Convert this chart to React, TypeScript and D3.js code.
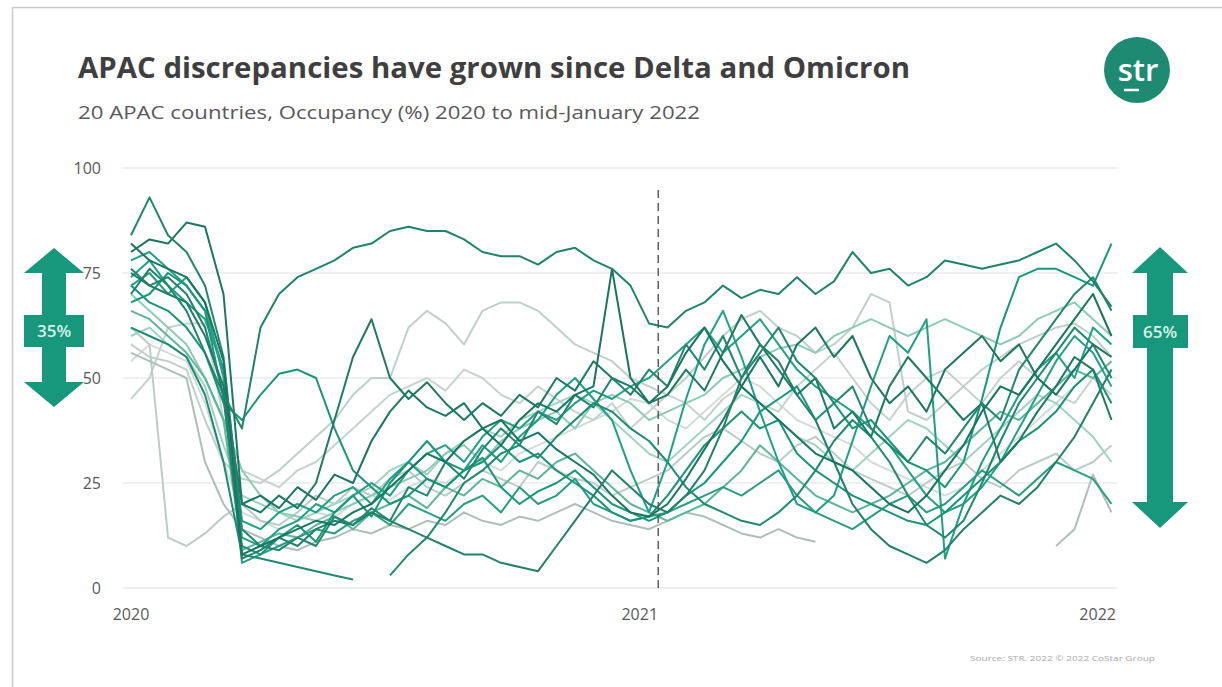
import React from "react";
import * as d3 from "d3";

// Samples every second week from the first week of 2020 to mid-January 2022
const weeks: number[] = d3.range(0, 107, 2);

// Occupancy (%) for 20 APAC markets; null = no data reported
const occA = [70,76,72,66,56,46,38,62,70,74,76,78,81,82,85,86,85,85,83,80,79,79,77,80,81,78,76,72,63,62,66,68,72,69,71,70,74,70,73,80,75,76,72,74,78,77,76,77,78,80,82,78,73,67];
const occB = [84,93,84,80,72,55,14,10,9,12,10,17,15,19,16,24,22,30,26,33,38,34,42,39,46,43,50,46,52,48,58,52,60,50,56,62,54,50,44,48,38,34,30,36,32,38,44,40,52,58,64,70,74,66];
const occC = [80,83,82,87,86,70,20,22,19,24,21,27,25,35,42,47,43,41,44,38,40,35,37,33,30,27,22,18,17,20,26,33,40,48,55,48,58,62,55,60,50,44,48,42,52,56,60,54,58,50,46,52,58,55];
const occD = [75,72,70,68,60,48,20,18,22,19,25,40,55,64,50,45,49,44,40,44,41,46,43,50,47,54,50,48,44,46,52,47,56,65,58,52,46,50,38,42,36,48,55,50,45,40,44,30,35,42,48,55,52,40];
const occE = [68,70,75,72,66,45,10,8,12,15,11,18,22,17,25,30,35,30,28,31,24,20,23,25,28,24,20,18,16,18,22,25,30,35,42,45,48,40,44,38,40,35,30,28,24,30,45,62,74,76,76,74,72,82];
const occF = [72,68,66,62,56,44,40,46,51,52,50,38,28,24,20,22,26,24,28,30,34,30,32,28,25,22,18,16,17,22,28,34,38,42,38,40,32,28,25,22,20,18,16,15,18,22,26,30,35,38,42,48,52,44];
const occG = [62,60,58,55,46,30,8,7,6,5,4,3,2,null,3,8,12,18,25,28,32,34,31,36,40,44,42,38,35,30,24,20,18,16,15,18,22,28,35,40,36,30,22,15,12,16,25,35,44,50,56,62,58,50];
const occH = [62,58,12,10,13,17,20,16,15,18,22,20,24,22,26,28,24,22,25,28,26,24,30,28,26,25,22,24,26,28,32,36,38,35,32,30,34,36,32,28,26,24,22,25,28,30,26,24,28,30,32,28,30,34];
const occI = [45,50,62,63,63,40,28,26,24,28,30,34,38,42,46,48,50,47,52,50,46,44,48,45,42,40,44,38,42,46,44,40,45,48,44,42,48,52,56,50,44,40,46,50,52,48,44,50,54,50,46,44,50,46];
const occJ = [58,55,54,52,40,30,26,25,28,32,36,40,46,50,50,62,66,63,58,66,68,68,66,62,58,56,54,50,48,46,50,55,60,64,66,62,60,56,58,62,70,68,42,40,44,48,52,55,58,60,62,63,60,55];
const occK = [70,66,62,58,50,40,28,22,18,17,16,18,20,22,24,26,28,32,34,30,35,38,40,42,38,44,46,44,40,42,44,46,50,52,55,57,58,56,60,62,64,62,60,62,64,62,60,58,60,64,66,68,64,60];
const occL = [78,80,76,72,66,52,12,10,14,16,20,18,22,25,22,28,32,34,30,36,40,38,42,40,44,47,45,48,50,54,58,62,56,60,64,58,52,48,45,42,38,34,28,22,18,20,24,30,38,46,54,60,56,48];
const occM = [72,75,70,74,68,50,6,8,10,12,14,13,16,18,15,20,18,16,20,22,18,24,20,22,26,20,18,16,17,18,20,22,24,22,25,28,22,18,16,14,17,20,22,18,20,24,28,25,22,26,30,28,26,20];
const occN = [66,64,60,56,50,40,9,11,13,12,15,17,14,18,20,22,19,24,22,26,24,28,26,30,32,28,24,20,18,16,18,20,24,28,34,30,26,22,20,18,20,22,25,28,30,34,38,42,40,44,48,52,50,54];
const occO = [76,72,74,70,62,46,7,9,12,10,14,16,15,18,16,14,12,10,8,8,6,5,4,10,16,22,28,24,20,18,22,28,38,50,58,54,46,40,30,20,14,10,8,6,9,14,18,22,20,24,30,36,44,52];
const occP = [60,62,58,55,48,34,22,20,18,16,18,20,22,24,28,30,27,32,35,38,36,40,42,44,46,44,40,36,32,30,34,38,42,46,44,40,36,34,30,28,32,36,40,38,34,30,34,38,42,46,44,40,36,30];
const occQ = [56,54,52,50,30,20,14,12,10,9,11,12,14,13,15,14,16,15,18,16,15,17,16,18,20,18,16,15,14,16,18,17,15,13,12,14,12,11,null,null,null,null,null,null,null,null,null,null,null,null,10,14,27,18];
const occR = [74,78,72,68,64,52,16,14,18,20,18,22,24,20,26,30,26,24,28,34,30,36,40,46,50,45,40,28,18,30,45,58,66,55,42,30,20,18,22,35,48,60,56,64,7,20,30,38,46,52,56,50,62,58];
const occS = [54,58,56,54,44,30,18,16,14,16,18,17,20,22,21,24,26,25,28,30,28,32,34,36,38,40,42,45,44,40,38,42,46,50,48,44,40,38,36,34,30,28,26,24,22,24,28,32,36,40,44,48,52,44];
const occT = [82,78,76,74,68,54,8,10,12,14,16,15,18,20,24,28,32,30,35,38,34,40,44,42,46,48,76,50,44,48,56,62,54,48,44,40,36,32,30,28,24,20,18,22,28,34,42,48,46,52,58,64,70,60];

// Pale markets first so the darker lines sit on top
const seriesList: (number | null)[][] = [
  occS, occI, occJ, occH, occQ, occP, occK, occN,
  occM, occL, occR, occF, occE, occG, occC, occD, occO, occB, occT, occA,
];
const lineColors = [
  "#d2ddd8", "#c6d3cd", "#bfd0c9", "#bccbc5", "#aebfb8", "#a2d2c2", "#8ecbb7", "#5db69c",
  "#2a9c82", "#25a085", "#1fa085", "#1a9479", "#17987d", "#1f8a72", "#1d7663", "#1c7a65", "#23806b", "#22876f", "#187560", "#1e846d",
];

const yTicks = [0, 25, 50, 75, 100];
// Year labels and the start-of-2021 marker, in weeks from 1 Jan 2020
const yearLabels = ["2020", "2021", "2022"];
const yearWeeks = [0, 55, 104.5];
const markerWeek = 57;

const spreadLabels = ["35%", "65%"];

const TEAL = "#17977c";

function DoubleArrow({ cx, top, bottom, headHalf, shaftHalf, headLen }: any) {
  const d = [
    [cx, top],
    [cx + headHalf, top + headLen],
    [cx + shaftHalf, top + headLen],
    [cx + shaftHalf, bottom - headLen],
    [cx + headHalf, bottom - headLen],
    [cx, bottom],
    [cx - headHalf, bottom - headLen],
    [cx - shaftHalf, bottom - headLen],
    [cx - shaftHalf, top + headLen],
    [cx - headHalf, top + headLen],
  ];
  return <path d={"M" + d.map((p) => p.join(",")).join("L") + "Z"} fill={TEAL} />;
}

export default function App() {
  const width = 1222;
  const height = 687;
  const x = d3.scaleLinear().domain([0, 106]).range([131, 1111.5]);
  const y = d3.scaleLinear().domain([0, 100]).range([588, 168]);
  const line = d3
    .line<number | null>()
    .defined((v) => v != null)
    .x((_, i) => x(weeks[i]))
    .y((v) => y(v as number));

  const font = "'Open Sans', 'Noto Sans', sans-serif";

  return (
    <>
      <style>{`body{margin:0;background:#fff}`}</style>
      <svg width={width} height={height} style={{ display: "block", fontFamily: font }}>
        <rect x={0} y={0} width={width} height={height} fill="#fff" />
        {/* frame */}
        <line x1={12.5} y1={7.5} x2={width} y2={7.5} stroke="#c9c9c9" strokeWidth={1.5} />
        <line x1={12.5} y1={7.5} x2={12.5} y2={height} stroke="#c9c9c9" strokeWidth={1.5} />

        {/* title block */}
        <text x={78} y={78} fontSize={29} fontWeight={700} fill="#3f3f3f" textLength={832} lengthAdjust="spacingAndGlyphs">
          APAC discrepancies have grown since Delta and Omicron
        </text>
        <text x={78} y={119} fontSize={19} fill="#595959" textLength={622} lengthAdjust="spacingAndGlyphs">
          20 APAC countries, Occupancy (%) 2020 to mid-January 2022
        </text>

        {/* logo */}
        <circle cx={1137} cy={70} r={33} fill="#1e8a72" />
        <text x={1138} y={81} textAnchor="middle" fontSize={31} fill="#fff" fontWeight={600}>
          str
        </text>
        <line x1={1124} y1={90} x2={1139} y2={90} stroke="#fff" strokeWidth={2.5} />

        {/* grid + y axis */}
        {yTicks.map((t) => (
          <g key={t}>
            <line x1={123} x2={1117} y1={y(t)} y2={y(t)} stroke="#ebebeb" strokeWidth={1.5} />
            <text x={101} y={y(t) + 6} textAnchor="end" fontSize={16} fill="#595959">
              {t}
            </text>
          </g>
        ))}

        {/* x axis labels */}
        {yearLabels.map((lab, i) => (
          <text key={lab} x={x(yearWeeks[i])} y={620} textAnchor="middle" fontSize={16} fill="#595959">
            {lab}
          </text>
        ))}

        {/* occupancy lines */}
        {seriesList.map((s, i) => (
          <path
            key={i}
            d={line(s) || ""}
            fill="none"
            stroke={lineColors[i]}
            strokeWidth={2}
            strokeLinejoin="round"
          />
        ))}

        {/* start-of-2021 marker */}
        <line x1={x(markerWeek)} x2={x(markerWeek)} y1={190} y2={590} stroke="#555" strokeWidth={1.4} strokeDasharray="8,5" />

        {/* spread arrows */}
        <DoubleArrow cx={54} top={248} bottom={407} headHalf={30} shaftHalf={12} headLen={25} />
        <rect x={24} y={315} width={60} height={32} fill={TEAL} />
        <text x={54} y={337} textAnchor="middle" fontSize={17} fontWeight={600} fill="#d9f4ea">
          {spreadLabels[0]}
        </text>

        <DoubleArrow cx={1160} top={247} bottom={528} headHalf={28} shaftHalf={13} headLen={26} />
        <rect x={1133} y={315} width={55} height={33} fill={TEAL} />
        <text x={1160} y={338} textAnchor="middle" fontSize={17} fontWeight={600} fill="#d9f4ea">
          {spreadLabels[1]}
        </text>

        {/* source */}
        <text x={970} y={661} fontSize={7} fill="#a8a8a8" textLength={185} lengthAdjust="spacingAndGlyphs">
          Source: STR. 2022 © 2022 CoStar Group
        </text>
      </svg>
    </>
  );
}
